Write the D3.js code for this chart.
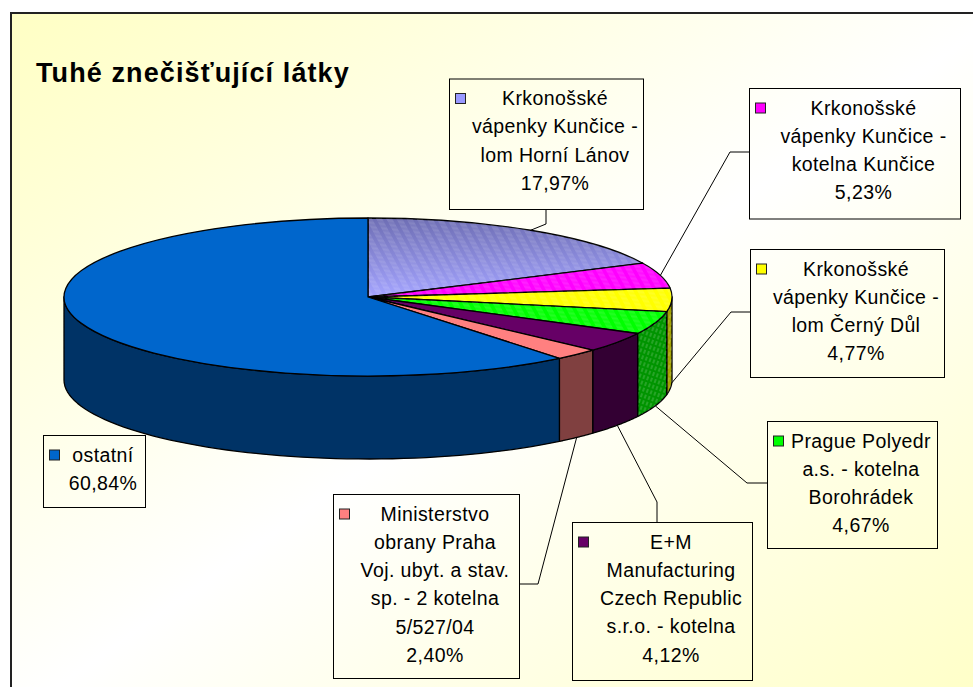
<!DOCTYPE html>
<html>
<head>
<meta charset="utf-8">
<script src="https://cdn.jsdelivr.net/npm/d3@7"></script>
<style>
  html, body { margin: 0; padding: 0; background: #ffffff; }
  svg { display: block; }
  text { font-family: "Liberation Sans", Arial, Helvetica, sans-serif; }
</style>
</head>
<body>
<svg id="chart" width="973" height="687"></svg>
<script>
// ---------- data ----------
const title = "Tuhé znečišťující látky";
const categories = [
  "Krkonošské vápenky Kunčice - lom Horní Lánov",
  "Krkonošské vápenky Kunčice - kotelna Kunčice",
  "Krkonošské vápenky Kunčice - lom Černý Důl",
  "Prague Polyedr a.s. - kotelna Borohrádek",
  "E+M Manufacturing Czech Republic s.r.o. - kotelna",
  "Ministerstvo obrany Praha Voj. ubyt. a stav. sp. - 2 kotelna 5/527/04",
  "ostatní"
];
const values = [17.97, 5.23, 4.77, 4.67, 4.12, 2.40, 60.84];
const labelLines = [
  ["Krkonošské", "vápenky Kunčice -", "lom Horní Lánov"],
  ["Krkonošské", "vápenky Kunčice -", "kotelna Kunčice"],
  ["Krkonošské", "vápenky Kunčice -", "lom Černý Důl"],
  ["Prague Polyedr", "a.s. - kotelna", "Borohrádek"],
  ["E+M", "Manufacturing", "Czech Republic", "s.r.o. - kotelna"],
  ["Ministerstvo", "obrany Praha", "Voj. ubyt. a stav.", "sp. - 2 kotelna", "5/527/04"],
  ["ostatní"]
];
const topColors  = ["#9999FF", "#FF00FF", "#FFFF00", "#00FF00", "#660066", "#FF8080", "#0066CC"];
const sideColors = ["#4D4D80", "#800080", "#A3A300", "#009400", "#330033", "#804040", "#003366"];

// ---------- layout (positions only) ----------
const W = 973, H = 687;
const cx = 368, cy = 297, rx = 304, ry = 79, depth = 83;
// label boxes: [x0, y0, x1, y1], elbow point, attach point on box
const boxes = [
  { b: [449, 78.5, 643, 209], elbow: [546, 224], attach: [546, 209] },
  { b: [749, 88, 960, 218.5], elbow: [730, 152], attach: [749, 152] },
  { b: [750, 249, 944, 377], elbow: [731, 312], attach: [750, 312] },
  { b: [767, 421, 937, 548], elbow: [747, 483], attach: [767, 483] },
  { b: [572, 522, 752, 680], elbow: [657, 502], attach: [657, 522] },
  { b: [333, 494, 519, 678], elbow: [538, 584], attach: [519, 584] },
  { b: [43, 435, 145, 507], elbow: null, attach: null }
];
const lineGap = 28.3, firstOffset = 26.5;

const svg = d3.select("#chart");
const defs = svg.append("defs");

// background gradient
const bg = defs.append("linearGradient").attr("id", "bg")
  .attr("x1", 0).attr("y1", 0).attr("x2", 1).attr("y2", 1);
bg.append("stop").attr("offset", 0).attr("stop-color", "#FFFFC4");
bg.append("stop").attr("offset", 0.5).attr("stop-color", "#FFFFFF");
bg.append("stop").attr("offset", 1).attr("stop-color", "#FFFFC4");

// lavender shading
const lg = defs.append("linearGradient").attr("id", "lavShade")
  .attr("x1", 0).attr("y1", 0).attr("x2", 0).attr("y2", 1);
lg.append("stop").attr("offset", 0).attr("stop-color", "#6E6EB4");
lg.append("stop").attr("offset", 1).attr("stop-color", "#A4A4FF");

// dash pattern (top faces)
const pat = defs.append("pattern").attr("id", "dash")
  .attr("patternUnits", "userSpaceOnUse").attr("width", 10).attr("height", 5)
  .attr("patternTransform", "rotate(-8)");
pat.append("line").attr("x1", 0).attr("y1", 2).attr("x2", 6).attr("y2", 2)
  .attr("stroke", "#ffffff").attr("stroke-opacity", 0.28).attr("stroke-width", 1);
// hatch pattern (side faces)
const hat = defs.append("pattern").attr("id", "hatch")
  .attr("patternUnits", "userSpaceOnUse").attr("width", 4).attr("height", 6)
  .attr("patternTransform", "rotate(20)");
hat.append("line").attr("x1", 2).attr("y1", 0).attr("x2", 2).attr("y2", 4)
  .attr("stroke", "#ffffff").attr("stroke-opacity", 0.3).attr("stroke-width", 1);

// chart area
svg.append("rect").attr("x", 11).attr("y", 13).attr("width", W + 20).attr("height", H + 20)
  .attr("fill", "url(#bg)").attr("stroke", "#222").attr("stroke-width", 2);

// title
svg.append("text").attr("x", 36).attr("y", 82)
  .attr("font-size", 27).attr("font-weight", "bold").attr("letter-spacing", 1.1)
  .attr("fill", "#000").text(title);

// ---------- pie ----------
const pie = d3.pie().sort(null).startAngle(0).endAngle(2 * Math.PI);
const arcs = pie(values);
const pt = (a, dy = 0) => [cx + rx * Math.sin(a), cy - ry * Math.cos(a) + dy];

const gPie = svg.append("g");

// side faces (front half only: angles between PI/2 and 3PI/2)
const lineGen = d3.line();
arcs.forEach((d, i) => {
  const a0 = Math.max(d.startAngle, Math.PI / 2);
  const a1 = Math.min(d.endAngle, 3 * Math.PI / 2);
  if (a1 <= a0) return;
  const n = 60;
  const top = d3.range(n + 1).map(k => pt(a0 + (a1 - a0) * k / n));
  const bot = d3.range(n + 1).map(k => pt(a1 - (a1 - a0) * k / n, depth));
  const path = lineGen(top.concat(bot)) + "Z";
  gPie.append("path").attr("d", path).attr("fill", sideColors[i])
    .attr("stroke", "#000").attr("stroke-width", 1.3).attr("stroke-linejoin", "round");
  if (i === 2 || i === 3) {
    gPie.append("path").attr("d", path).attr("fill", "url(#hatch)").attr("stroke", "none");
  }
});

// top faces
const arcGen = d3.arc().innerRadius(0).outerRadius(rx);
const gTop = gPie.append("g").attr("transform", `translate(${cx},${cy}) scale(1,${ry / rx})`);
arcs.forEach((d, i) => {
  gTop.append("path").attr("d", arcGen(d))
    .attr("fill", i === 0 ? "url(#lavShade)" : topColors[i])
    .attr("stroke", "#000").attr("stroke-width", 1.3)
    .attr("vector-effect", "non-scaling-stroke").attr("stroke-linejoin", "round");
  if (i <= 3) {
    gTop.append("path").attr("d", arcGen(d)).attr("fill", "url(#dash)")
      .attr("stroke", "none");
  }
});

// ---------- labels ----------
const fmt = v => d3.format(".2f")(v).replace(".", ",") + "%";
const gLab = svg.append("g");
arcs.forEach((d, i) => {
  const bx = boxes[i];
  const [x0, y0, x1, y1] = bx.b;
  // leader line
  if (bx.elbow) {
    const mid = (d.startAngle + d.endAngle) / 2;
    const front = mid > Math.PI / 2 && mid < 3 * Math.PI / 2;
    const anchor = pt(mid, front ? depth : 0);
    gLab.append("polyline")
      .attr("points", [anchor, bx.elbow, bx.attach].map(p => p.join(",")).join(" "))
      .attr("fill", "none").attr("stroke", "#000").attr("stroke-width", 1);
  }
  gLab.append("rect").attr("x", x0 + 0.5).attr("y", y0 + 0.5)
    .attr("width", x1 - x0).attr("height", y1 - y0)
    .attr("fill", "none").attr("stroke", "#000").attr("stroke-width", 1);
  const lines = labelLines[i].concat([fmt(values[i])]);
  const tx = (x0 + 18 + x1) / 2;
  const base = y0 + firstOffset;
  // legend key
  gLab.append("rect").attr("x", x0 + 6.5).attr("y", base - 11.5)
    .attr("width", 10).attr("height", 10)
    .attr("fill", topColors[i]).attr("stroke", "#222").attr("stroke-width", 1);
  const t = gLab.append("text").attr("text-anchor", "middle")
    .attr("font-size", 19.5).attr("letter-spacing", 0.4).attr("fill", "#000");
  lines.forEach((s, k) => {
    t.append("tspan").attr("x", tx).attr("y", base + k * lineGap).text(s);
  });
});
</script>
</body>
</html>
